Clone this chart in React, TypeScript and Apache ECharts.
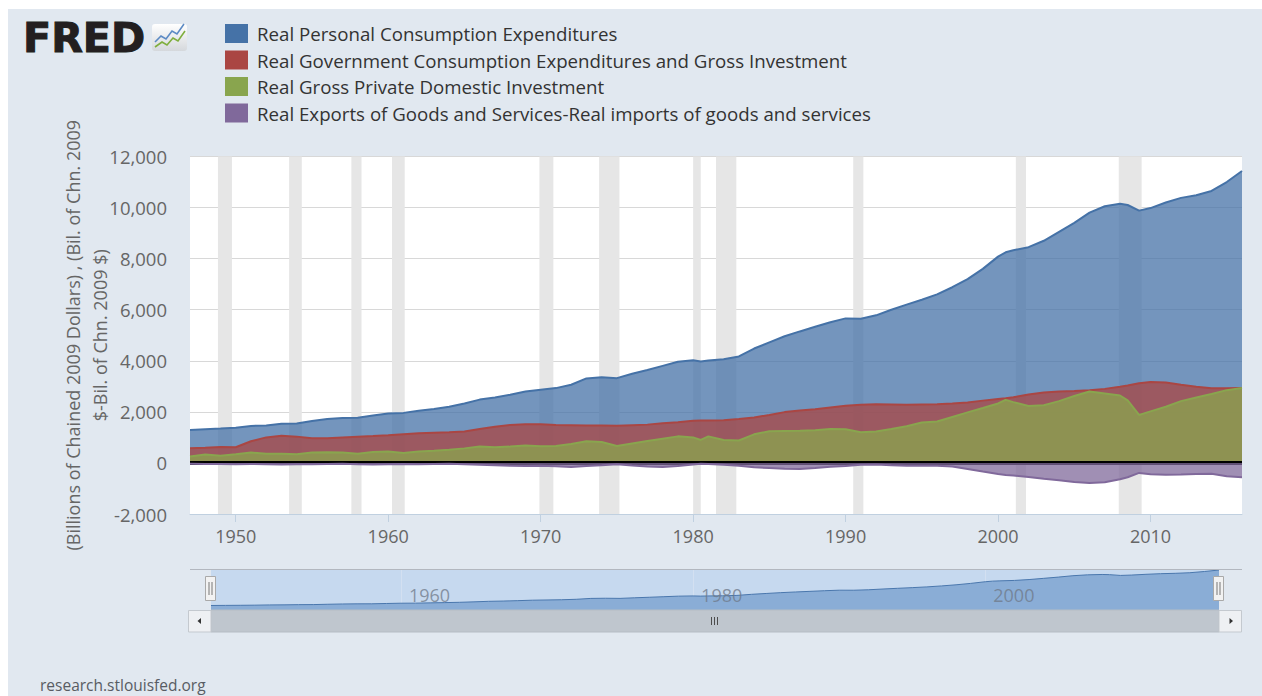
import React, { useEffect, useRef } from 'react';
import * as echarts from 'echarts';

// ---------- data ----------
const dates = [
  '1947-01', '1948-01', '1949-01', '1950-01', '1951-01', '1952-01', '1953-01', '1954-01', '1955-01', '1956-01',
  '1957-01', '1958-01', '1959-01', '1960-01', '1961-01', '1962-01', '1963-01', '1964-01', '1965-01', '1966-01',
  '1967-01', '1968-01', '1969-01', '1970-01', '1971-01', '1972-01', '1973-01', '1974-01', '1975-01', '1976-01',
  '1977-01', '1978-01', '1979-01', '1980-01', '1980-07', '1981-01', '1982-01', '1983-01', '1984-01', '1985-01',
  '1986-01', '1987-01', '1988-01', '1989-01', '1990-01', '1991-01', '1992-01', '1993-01', '1994-01', '1995-01',
  '1996-01', '1997-01', '1998-01', '1999-01', '2000-01', '2000-07', '2001-01', '2002-01', '2003-01', '2004-01',
  '2005-01', '2006-01', '2007-01', '2008-01', '2008-07', '2009-04', '2010-01', '2011-01', '2012-01', '2013-01',
  '2014-01', '2015-01', '2016-01',
];

const pce = [
  1290, 1320, 1345, 1380, 1450, 1470, 1530, 1545, 1640, 1720,
  1760, 1770, 1860, 1940, 1960, 2040, 2110, 2200, 2330, 2480,
  2560, 2670, 2800, 2870, 2930, 3060, 3310, 3360, 3320, 3490,
  3640, 3800, 3960, 4020, 3970, 4010, 4060, 4170, 4480, 4720,
  4960, 5150, 5330, 5510, 5660, 5650, 5780, 6000, 6200, 6390,
  6600, 6880, 7200, 7600, 8080, 8250, 8330, 8450, 8700, 9050,
  9400, 9800, 10050, 10150, 10100, 9880, 9980, 10200, 10380, 10480,
  10650, 11000, 11430,
];

const gov = [
  575, 590, 620, 615, 850, 1000, 1060, 1030, 970, 970,
  1000, 1030, 1050, 1080, 1120, 1160, 1180, 1200, 1230, 1330,
  1420, 1490, 1510, 1510, 1490, 1480, 1470, 1470, 1460, 1480,
  1500, 1550, 1590, 1650, 1660, 1660, 1670, 1720, 1780, 1880,
  1990, 2050, 2100, 2170, 2240, 2280, 2300, 2290, 2280, 2290,
  2300, 2330, 2370, 2440, 2500, 2530, 2570, 2680, 2760, 2800,
  2820, 2850, 2900, 2980, 3030, 3120, 3170, 3150, 3060, 2980,
  2920, 2920, 2930,
];

const gpdi = [
  250, 330, 280, 340, 410, 360, 360, 340, 410, 420,
  410, 360, 430, 450, 390, 450, 480, 520, 570, 640,
  610, 640, 680, 650, 660, 740, 850, 820, 660, 760,
  860, 950, 1040, 1000, 900, 1040, 900, 880, 1120, 1240,
  1250, 1260, 1280, 1330, 1320, 1200, 1230, 1330, 1440, 1580,
  1620, 1800, 1980, 2150, 2330, 2470, 2380, 2230, 2260, 2420,
  2620, 2800, 2720, 2640, 2450, 1880, 2020, 2200, 2420, 2560,
  2700, 2850, 2930,
];

const netExports = [
  -30, -40, -40, -50, -40, -50, -60, -50, -50, -40,
  -30, -50, -60, -50, -40, -50, -40, -30, -50, -70,
  -90, -110, -120, -110, -130, -160, -120, -90, -50, -100,
  -140, -160, -120, -60, -30, -40, -70, -110, -170, -200,
  -230, -240, -200, -150, -120, -70, -60, -90, -110, -110,
  -110, -140, -240, -340, -430, -470, -490, -550, -620, -680,
  -750, -790, -760, -640, -560, -390, -440, -460, -450, -430,
  -420, -520, -560,
];

const recessions: [string, string][] = [
  ['1948-11', '1949-10'], ['1953-07', '1954-05'], ['1957-08', '1958-04'], ['1960-04', '1961-02'],
  ['1969-12', '1970-11'], ['1973-11', '1975-03'], ['1980-01', '1980-07'], ['1981-07', '1982-11'],
  ['1990-07', '1991-03'], ['2001-03', '2001-11'], ['2007-12', '2009-06'],
];

const seriesNames = [
  'Real Personal Consumption Expenditures',
  'Real Government Consumption Expenditures and Gross Investment',
  'Real Gross Private Domestic Investment',
  'Real Exports of Goods and Services-Real imports of goods and services',
];
const seriesColors = ['#4572a7', '#aa4643', '#89a54e', '#80699b'];
const xTickYears = [1950, 1960, 1970, 1980, 1990, 2000, 2010];
const navTickYears = [1960, 1980, 2000];
const xStart = '1947-01';
const xEnd = '2016-01';
const yMin = -2000;
const yMax = 12000;
const yStep = 2000;
const yAxisTitle = '(Billions of Chained 2009 Dollars) , (Bil. of Chn. 2009\n$-Bil. of Chn. 2009 $)';
const footerText = 'research.stlouisfed.org';

// ---------- helpers ----------
const toYear = (d: string) => {
  const [y, m] = d.split('-').map(Number);
  return y + (m - 1) / 12;
};
const FONT = '"Open Sans", sans-serif';

export default function App() {
  const ref = useRef<HTMLDivElement>(null);

  useEffect(() => {
    if (!ref.current) return;
    const chart = echarts.init(ref.current, undefined, { renderer: 'svg' });

    const values = [pce, gov, gpdi, netExports];
    const mainSeries: any[] = values.map((vals, i) => {
      const s: any = {
        type: 'line',
        name: seriesNames[i],
        xAxisIndex: 0,
        yAxisIndex: 0,
        data: dates.map((d, k) => [toYear(d), vals[k]]),
        symbol: 'none',
        showSymbol: false,
        smooth: false,
        lineStyle: { color: seriesColors[i], width: 2 },
        itemStyle: { color: seriesColors[i] },
        areaStyle: { color: seriesColors[i], opacity: 0.75, origin: 'auto' },
        z: 2 + i,
        silent: true,
      };
      if (i === 0) {
        s.markArea = {
          silent: true,
          z: 1,
          itemStyle: { color: '#e6e6e6' },
          data: recessions.map(([a, b]) => [{ xAxis: toYear(a) }, { xAxis: toYear(b) }]),
        };
      }
      if (i === 3) {
        s.markLine = {
          silent: true,
          symbol: ['none', 'none'],
          label: { show: false },
          lineStyle: { color: '#000', width: 4, type: 'solid', opacity: 1 },
          data: [{ yAxis: 0 }],
        };
      }
      return s;
    });

    const navSeries = {
      type: 'line',
      name: 'navigator',
      xAxisIndex: 1,
      yAxisIndex: 1,
      data: dates.map((d, k) => [toYear(d), pce[k]]),
      symbol: 'none',
      showSymbol: false,
      lineStyle: { color: '#4a77ad', width: 1 },
      areaStyle: { color: '#8aadd6', opacity: 1 },
      silent: true,
      z: 2,
      markLine: {
        silent: true,
        z: 1,
        symbol: ['none', 'none'],
        label: { show: false },
        lineStyle: { color: '#d3e0f1', width: 1, type: 'solid' },
        data: navTickYears.map((y) => ({ xAxis: y })),
      },
    };

    const graphics: any[] = [
      // FRED logo
      {
        type: 'text',
        x: 23,
        y: 18,
        scaleX: 1.03,
        z: 100,
        style: {
          text: 'FRED',
          fill: '#231f20',
          stroke: '#231f20',
          lineWidth: 1,
          font: 'bold 40px "DejaVu Sans"',
          verticalAlign: 'top',
        },
      },
      {
        type: 'rect',
        z: 100,
        shape: { x: 152, y: 24, width: 35, height: 27, r: 3 },
        style: {
          fill: new echarts.graphic.LinearGradient(0, 0, 0, 1, [
            { offset: 0, color: '#ffffff' },
            { offset: 1, color: '#d5d8dc' },
          ]),
        },
      },
      {
        type: 'polyline',
        z: 101,
        shape: { points: [[155, 42], [161, 36], [166, 39], [172, 31], [177, 34], [184, 24]] },
        style: { stroke: '#5c8ac4', lineWidth: 1.6, fill: 'none' },
      },
      {
        type: 'polyline',
        z: 101,
        shape: { points: [[155, 47], [162, 42], [167, 45], [173, 38], [178, 41], [185, 31]] },
        style: { stroke: '#7fae3d', lineWidth: 1.6, fill: 'none' },
      },
      // navigator top outline
      {
        type: 'line',
        z: 50,
        shape: { x1: 190, y1: 569.5, x2: 1242, y2: 569.5 },
        style: { stroke: '#b2b7bf', lineWidth: 1 },
      },
      // scrollbar track
      {
        type: 'rect',
        z: 50,
        shape: { x: 211, y: 610, width: 1008, height: 22 },
        style: { fill: '#bfc6ce', stroke: '#b5bcc4', lineWidth: 1 },
      },
      // scrollbar buttons
      {
        type: 'rect',
        z: 50,
        shape: { x: 188.5, y: 610.5, width: 22.5, height: 21.5 },
        style: { fill: '#eef0f3', stroke: '#c4c9cf', lineWidth: 1 },
      },
      {
        type: 'rect',
        z: 50,
        shape: { x: 1219, y: 610.5, width: 22.5, height: 21.5 },
        style: { fill: '#eef0f3', stroke: '#c4c9cf', lineWidth: 1 },
      },
      {
        type: 'polygon',
        z: 51,
        shape: { points: [[197.5, 621], [201, 618], [201, 624]] },
        style: { fill: '#333' },
      },
      {
        type: 'polygon',
        z: 51,
        shape: { points: [[1233, 621], [1229.5, 618], [1229.5, 624]] },
        style: { fill: '#333' },
      },
      // scrollbar grip
      ...[711, 714, 717].map((x) => ({
        type: 'line',
        z: 51,
        shape: { x1: x + 0.5, y1: 617, x2: x + 0.5, y2: 625 },
        style: { stroke: '#4d4d4d', lineWidth: 1 },
      })),
      // navigator handles
      ...[211, 1219].map((cx) => ({
        type: 'group',
        z: 60,
        children: [
          {
            type: 'rect',
            z: 60,
            shape: { x: cx - 5.5, y: 576.5, width: 10, height: 24 },
            style: { fill: '#f2f2f2', stroke: '#a9a9a9', lineWidth: 1 },
          },
          {
            type: 'line',
            z: 61,
            shape: { x1: cx - 2, y1: 582, x2: cx - 2, y2: 595 },
            style: { stroke: '#777', lineWidth: 1 },
          },
          {
            type: 'line',
            z: 61,
            shape: { x1: cx + 1, y1: 582, x2: cx + 1, y2: 595 },
            style: { stroke: '#777', lineWidth: 1 },
          },
        ],
      })),
      // footer
      {
        type: 'text',
        x: 40,
        y: 685,
        z: 100,
        style: {
          text: footerText,
          fill: '#585c63',
          font: `15.5px ${FONT}`,
          verticalAlign: 'middle',
        },
      },
    ];

    chart.setOption({
      animation: false,
      backgroundColor: 'transparent',
      textStyle: { fontFamily: FONT },
      legend: {
        data: seriesNames.map((n) => ({ name: n, icon: 'rect' })),
        orient: 'vertical',
        left: 225,
        top: 24,
        padding: 0,
        itemWidth: 23,
        itemHeight: 19,
        itemGap: 7.5,
        selectedMode: false,
        textStyle: { fontSize: 18.7, color: '#333', fontFamily: FONT, padding: [0, 0, 0, 4] },
      },
      grid: [
        {
          left: 190,
          right: 20,
          top: 156.5,
          bottom: 182,
          show: true,
          backgroundColor: '#ffffff',
          borderWidth: 0,
        },
        {
          left: 211,
          right: 43,
          top: 570,
          bottom: 86,
          show: true,
          backgroundColor: '#c6d9ef',
          borderWidth: 0,
        },
      ],
      xAxis: [
        {
          type: 'value',
          gridIndex: 0,
          min: toYear(xStart),
          max: toYear(xEnd),
          axisLine: { show: true, onZero: false, lineStyle: { color: '#c0d0e0', width: 1 } },
          axisTick: { show: true, customValues: xTickYears, length: 8, lineStyle: { color: '#c0d0e0' } },
          axisLabel: {
            customValues: xTickYears,
            formatter: (v: number) => String(Math.round(v)),
            fontSize: 18,
            color: '#666',
            margin: 13,
            fontFamily: FONT,
          },
          splitLine: { show: false },
        },
        {
          type: 'value',
          gridIndex: 1,
          z: 10,
          min: toYear(xStart),
          max: toYear(xEnd),
          axisLine: { show: false },
          axisTick: { show: false },
          axisLabel: {
            inside: true,
            customValues: navTickYears,
            formatter: (v: number) => String(Math.round(v)),
            fontSize: 18,
            color: 'rgba(110,120,135,0.75)',
            align: 'left',
            padding: [0, 0, 0, 8],
            margin: 6,
            fontFamily: FONT,
          },
          splitLine: { show: false },
        },
      ],
      yAxis: [
        {
          type: 'value',
          gridIndex: 0,
          min: yMin,
          max: yMax,
          interval: yStep,
          axisLine: { show: false },
          axisTick: { show: false },
          axisLabel: {
            formatter: (v: number) => v.toLocaleString('en-US'),
            fontSize: 18.5,
            color: '#666',
            margin: 23,
            fontFamily: FONT,
          },
          splitLine: { show: true, lineStyle: { color: '#d8d8d8', width: 1 } },
          name: yAxisTitle,
          nameLocation: 'middle',
          nameRotate: 90,
          nameGap: 77,
          nameMoveOverlap: false,
          nameTextStyle: { fontSize: 18, color: '#666', lineHeight: 27, fontFamily: FONT, align: 'center' },
        },
        {
          type: 'value',
          gridIndex: 1,
          min: 0,
          max: 'dataMax',
          show: false,
          splitLine: { show: false },
        },
      ],
      series: [...mainSeries, navSeries],
      graphic: graphics,
    });

    return () => chart.dispose();
  }, []);

  return (
    <div style={{ position: 'fixed', left: 0, top: 0, width: 1262, height: 696, background: '#ffffff', overflow: 'hidden' }}>
      <div style={{ position: 'absolute', left: 8, top: 9, right: 0, bottom: 0, background: '#e1e8f0' }} />
      <div ref={ref} style={{ position: 'absolute', left: 0, top: 0, width: 1262, height: 696 }} />
    </div>
  );
}
